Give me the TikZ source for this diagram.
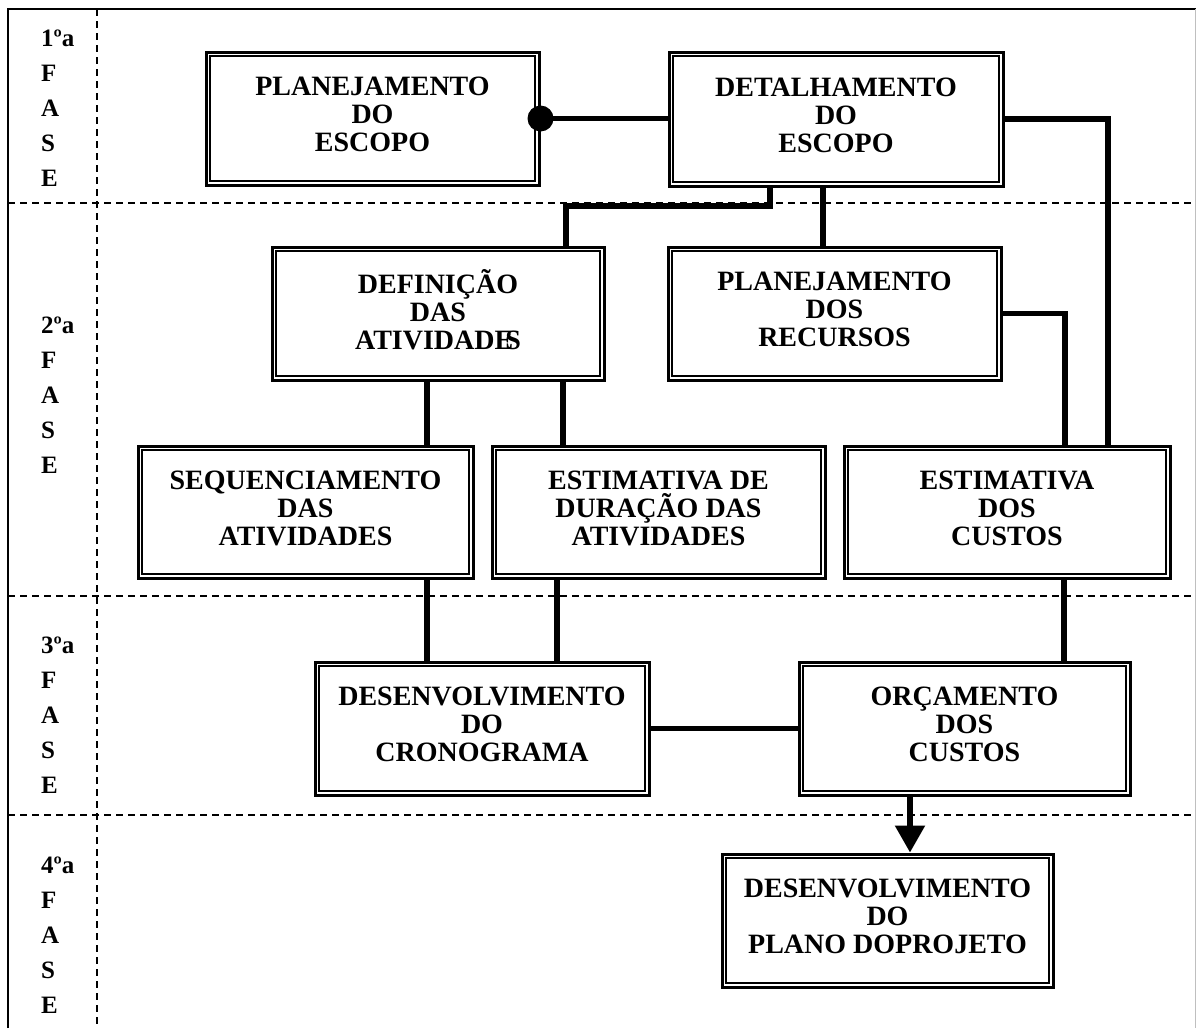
\documentclass[tikz,border=0pt]{standalone}
\usepackage{fontspec}
\setmainfont{Liberation Serif}
\usetikzlibrary{arrows.meta}
\begin{document}
\begin{tikzpicture}[x=1pt,y=-1pt,
  box/.style n args={2}{draw, line width=3pt, fill=white, align=center, inner sep=0pt,
     text depth=8pt,
     minimum width=#1, minimum height=#2, font=\fontsize{28}{28}\selectfont\bfseries},
  innerline/.style={line width=1.5pt},
  conn/.style={line width=5.5pt},
  phase/.style={anchor=north west, align=left, inner sep=0pt, font=\fontsize{25}{35}\selectfont\bfseries},
  sepline/.style={dash pattern=on 7pt off 5pt, line width=1.2pt}]
\useasboundingbox (0,0) rectangle (1196,1028);
% frame
\draw[line width=2pt] (8,1028) -- (8,9) -- (1196,9);
\draw[black!25, line width=1pt] (1195,9) -- (1195,1028);
% separators
\draw[sepline] (97,9) -- (97,1028);
\foreach \yy in {203,596,815} \draw[sepline] (8,\yy) -- (1196,\yy);
% phase labels
\node[phase] (p1) at (41,30) {1ºa\\F\\A\\S\\E};
\node[phase] (p2) at (41,317) {2ºa\\F\\A\\S\\E};
\node[phase] (p3) at (41,637) {3ºa\\F\\A\\S\\E};
\node[phase] (p4) at (41,857) {4ºa\\F\\A\\S\\E};
% boxes
\node[box={333}{133}] (A) at (372.5,118.5) {PLANEJAMENTO\\DO\\ESCOPO};
\node[box={334}{134}] (B) at (836,119) {DETALHAMENTO\\DO\\ESCOPO};
\node[box={332}{133}] (C) at (438,313.5) {DEFINIÇÃO\\DAS\\ATIVIDADE\kern-8pt S};
\node[box={333}{133}] (D) at (834.5,313.5) {PLANEJAMENTO\\DOS\\RECURSOS};
\node[box={335}{132}] (E) at (305.5,512) {SEQUENCIAMENTO\\DAS\\ATIVIDADES};
\node[box={333}{132}] (F) at (658.5,512) {ESTIMATIVA DE\\DURAÇÃO DAS\\ATIVIDADES};
\node[box={326}{132}] (G) at (1007,512) {ESTIMATIVA\\DOS\\CUSTOS};
\node[box={334}{133}] (I) at (482,728.5) {DESENVOLVIMENTO\\DO\\CRONOGRAMA};
\node[box={331}{133}] (J) at (964.5,728.5) {ORÇAMENTO\\DOS\\CUSTOS};
\node[box={331}{133}] (H) at (887.5,920.5) {DESENVOLVIMENTO\\DO\\PLANO DOPROJETO};
\foreach \n in {A,B,C,D,E,F,G,I,J,H}
  \draw[innerline] ([xshift=5.5pt,yshift=-5.5pt]\n.north west) rectangle ([xshift=-5.5pt,yshift=5.5pt]\n.south east);
% connector coordinates
\coordinate (xb) at (1108,0);
\coordinate (b1) at (770,206);
\coordinate (c1) at (566,206);
\coordinate (xd) at (823,0);
\coordinate (xg) at (1065,0);
\coordinate (xe) at (427,0);
\coordinate (xf) at (563,0);
\coordinate (xf2) at (557,0);
\coordinate (xj) at (1064,0);
\coordinate (xa) at (910,0);
% connectors
\draw[conn] (A.east) -- (A.east -| B.west);
\fill (A.east) circle (13);
\draw[conn] (B.east) -| (xb |- G.north);
\draw[conn] (b1 |- B.south) -- (b1) -- (c1) -- (c1 |- C.north);
\draw[conn] (xd |- B.south) -- (xd |- D.north);
\draw[conn] (D.east) -| (xg |- G.north);
\draw[conn] (xe |- C.south) -- (xe |- E.north);
\draw[conn] (xf |- C.south) -- (xf |- F.north);
\draw[conn] (xe |- E.south) -- (xe |- I.north);
\draw[conn] (xf2 |- F.south) -- (xf2 |- I.north);
\draw[conn] (xj |- G.south) -- (xj |- J.north);
\draw[conn] (I.east) -- (J.west);
\draw[conn, -{Triangle[length=27pt,width=29pt]}] (xa |- J.south) -- (xa |- H.north);
\end{tikzpicture}
\end{document}
